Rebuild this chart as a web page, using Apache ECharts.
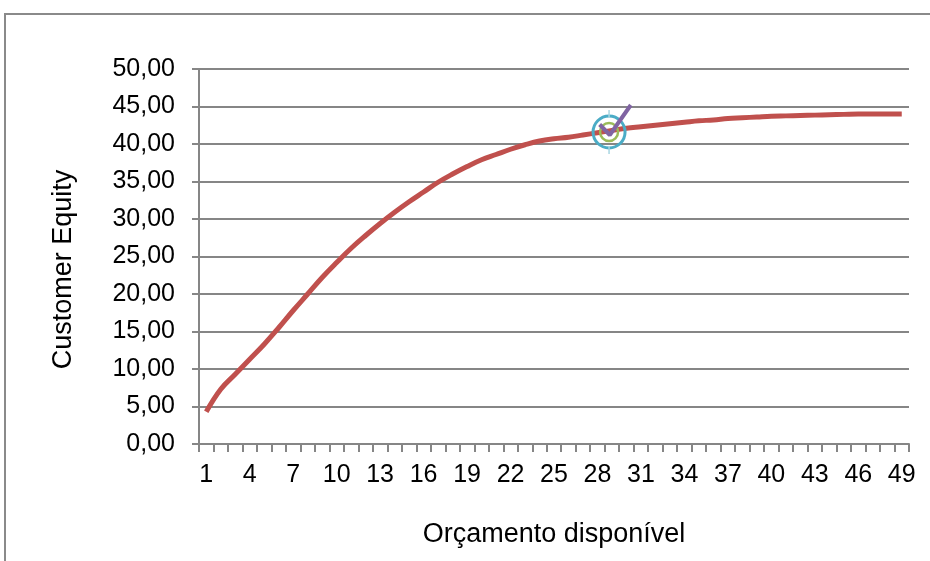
<!DOCTYPE html>
<html>
<head>
<meta charset="utf-8">
<script src="https://cdn.jsdelivr.net/npm/echarts@6/dist/echarts.min.js"></script>
<style>
  html, body { margin: 0; padding: 0; background: #fff; }
  #chart { width: 930px; height: 561px; }
</style>
</head>
<body>
<div id="chart"></div>
<script>
// Budget levels 1..49
const budgets = Array.from({ length: 49 }, (_, i) => String(i + 1));

// Customer equity per budget level
const customerEquity = [
  4.3, 7.3, 9.3, 11.3, 13.3, 15.5, 17.8, 20.0, 22.2, 24.2,
  26.1, 27.8, 29.4, 30.9, 32.3, 33.6, 34.9, 36.0, 37.0, 37.9,
  38.6, 39.3, 39.9, 40.4, 40.7, 40.9, 41.2, 41.5, 41.8, 42.1,
  42.3, 42.5, 42.7, 42.9, 43.1, 43.2, 43.4, 43.5, 43.6, 43.7,
  43.75, 43.8, 43.85, 43.9, 43.95, 44.0, 44.0, 44.0, 44.0
];

// Highlighted optimum (budget position, equity)
const optimumPoint = [28.8, 41.6];

// Check mark drawn over the optimum
const checkMark = [[28.15, 42.6], [28.85, 41.2], [30.3, 45.2]];

const FONT = 'Liberation Sans, Arial, sans-serif';
const GRAY = '#868686';

const chart = echarts.init(document.getElementById('chart'));

chart.setOption({
  animation: false,
  backgroundColor: '#fff',
  graphic: [{
    type: 'rect',
    shape: { x: 5, y: 14, width: 940, height: 560 },
    style: { fill: 'none', stroke: '#8a8a8a', lineWidth: 2 },
    silent: true
  }],
  grid: { left: 199, right: 21, top: 69, bottom: 117 },
  xAxis: [{
    type: 'category',
    data: budgets,
    boundaryGap: true,
    name: 'Orçamento disponível',
    nameLocation: 'middle',
    nameGap: 77,
    nameTextStyle: { fontFamily: FONT, fontSize: 27, color: '#000' },
    axisLine: { lineStyle: { color: GRAY, width: 2 } },
    axisTick: { show: true, interval: 0, length: 8, lineStyle: { color: GRAY, width: 2 } },
    axisLabel: { interval: 2, margin: 19, fontFamily: FONT, fontSize: 25, color: '#000' },
    splitLine: { show: false }
  }, {
    type: 'value',
    min: 0.5,
    max: 49.5,
    show: false
  }],
  yAxis: {
    type: 'value',
    min: 0,
    max: 50,
    interval: 5,
    name: 'Customer Equity',
    nameLocation: 'middle',
    nameGap: 122,
    nameTextStyle: { fontFamily: FONT, fontSize: 27, color: '#000', padding: [0, 26, 0, 0] },
    axisLine: { show: true, lineStyle: { color: GRAY, width: 2 } },
    axisTick: { show: true, length: 7, lineStyle: { color: GRAY, width: 2 } },
    axisLabel: {
      margin: 24,
      fontFamily: FONT,
      fontSize: 25,
      color: '#000',
      formatter: v => v.toFixed(2).replace('.', ',')
    },
    splitLine: { lineStyle: { color: GRAY, width: 2 } }
  },
  series: [{
    name: 'Customer Equity',
    type: 'line',
    data: customerEquity,
    smooth: 0.4,
    symbol: 'none',
    lineStyle: { color: '#C0504D', width: 5 },
    z: 3
  }, {
    name: 'Optimum',
    type: 'custom',
    xAxisIndex: 1,
    data: [optimumPoint],
    renderItem: (params, api) => {
      const p = api.coord([api.value(0), api.value(1)]);
      return {
        type: 'group',
        children: [
          { type: 'circle', shape: { cx: p[0], cy: p[1], r: 16 },
            style: { fill: 'none', stroke: '#4BACC6', lineWidth: 3 } },
          { type: 'circle', shape: { cx: p[0], cy: p[1], r: 9 },
            style: { fill: 'none', stroke: '#9BBB59', lineWidth: 2.5 } },
          { type: 'line', shape: { x1: p[0], y1: p[1] - 22, x2: p[0], y2: p[1] - 14 },
            style: { stroke: '#A9D6E2', lineWidth: 1.5 } },
          { type: 'line', shape: { x1: p[0], y1: p[1] + 14, x2: p[0], y2: p[1] + 22 },
            style: { stroke: '#A9D6E2', lineWidth: 1.5 } }
        ]
      };
    },
    z: 4
  }, {
    name: 'Check',
    type: 'line',
    xAxisIndex: 1,
    data: checkMark,
    symbol: 'none',
    lineStyle: { color: '#8064A2', width: 4 },
    z: 5
  }]
});
</script>
</body>
</html>
